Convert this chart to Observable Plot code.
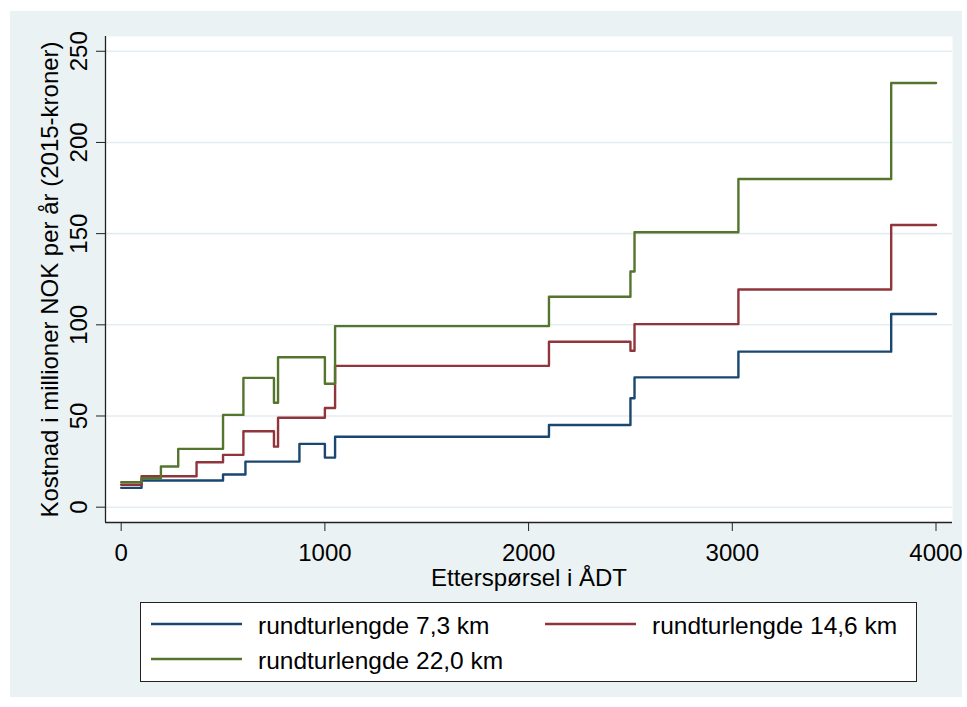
<!DOCTYPE html>
<html>
<head>
<meta charset="utf-8">
<script src="https://cdn.jsdelivr.net/npm/d3@7"></script>
<script src="https://cdn.jsdelivr.net/npm/@observablehq/plot@0.6"></script>
<style>
  html, body { margin: 0; padding: 0; background: #ffffff; }
  #wrap { position: relative; width: 967px; height: 707px; overflow: hidden; font-family: "Liberation Sans", Arial, sans-serif; }
  #bg { position: absolute; left: 10px; top: 11px; width: 952px; height: 686px; background: #eaf2f3; }
  #chart { position: absolute; left: 0; top: 0; }
  #legend { position: absolute; left: 140px; top: 602px; }
</style>
</head>
<body>
<div id="wrap">
  <div id="bg"></div>
  <div id="chart"></div>
  <div id="legend"></div>
</div>
<script>
// ---- data ----
const seriesNames = ["rundturlengde 7,3 km", "rundturlengde 14,6 km", "rundturlengde 22,0 km"];
const seriesColors = ["#1a476f", "#90353b", "#55752f"];

const xBlue = [0, 100, 500, 610, 875, 1000, 1050, 2100, 2500, 2520, 3030, 3780, 4000];
const yBlue = [10.6, 14.6, 17.9, 25.0, 34.7, 27.2, 38.6, 45.1, 59.7, 71.2, 85.3, 105.9, 105.9];

const xRed = [0, 100, 370, 500, 600, 750, 770, 1000, 1050, 2100, 2500, 2520, 3030, 3780, 4000];
const yRed = [12.3, 17.0, 24.6, 28.7, 41.6, 33.2, 49.0, 54.4, 77.5, 90.7, 85.8, 100.4, 119.4, 154.7, 154.7];

const xGreen = [0, 100, 195, 280, 500, 600, 750, 770, 1000, 1050, 2100, 2500, 2520, 3030, 3780, 4000];
const yGreen = [13.7, 15.9, 22.3, 32.0, 50.6, 70.9, 57.3, 82.2, 67.7, 99.3, 115.4, 129.2, 150.8, 180.0, 232.6, 232.6];

const xTicks = [0, 1000, 2000, 3000, 4000];
const yTicks = [0, 50, 100, 150, 200, 250];
const xTitle = "Etterspørsel i ÅDT";
const yTitle = "Kostnad i millioner NOK per år (2015-kroner)";

// ---- build table ----
const allX = [xBlue, xRed, xGreen];
const allY = [yBlue, yRed, yGreen];
const rows = [];
seriesNames.forEach((name, i) => {
  allX[i].forEach((x, j) => rows.push({series: name, x, y: allY[i][j]}));
});

const xDom = [-77, 4081];
const yDom = [-8.4, 258.1];
const font = "'Liberation Sans', Arial, sans-serif";

const chart = Plot.plot({
  width: 967,
  height: 600,
  marginLeft: 105,
  marginRight: 15,
  marginTop: 36,
  marginBottom: 78,
  style: {background: "transparent", fontFamily: font, fontSize: "24px", color: "#000", overflow: "visible"},
  x: {domain: xDom},
  y: {domain: yDom},
  color: {domain: seriesNames, range: seriesColors},
  marks: [
    Plot.frame({fill: "#ffffff", stroke: null}),
    Plot.gridY(yTicks, {stroke: "#e4edf1", strokeOpacity: 1, strokeWidth: 1.6}),
    Plot.axisY(yTicks, {tickSize: 9, tickPadding: 10, tickRotate: -90, fontSize: 24, label: null, stroke: "#222", fill: "#000", tickFormat: d => String(d)}),
    Plot.axisX(xTicks, {tickSize: 9, tickPadding: 12, fontSize: 24, label: null, stroke: "#222", fill: "#000", tickFormat: d => String(d)}),
    Plot.ruleX([xDom[0]], {stroke: "#222", strokeWidth: 1.3}),
    Plot.ruleY([yDom[0]], {stroke: "#222", strokeWidth: 1.3}),
    Plot.line(rows, {x: "x", y: "y", z: "series", stroke: "series", curve: "step-after", strokeWidth: 2.4}),
    Plot.text([yTitle], {frameAnchor: "left", rotate: -90, dx: -55, fontSize: 24, fill: "#000", lineAnchor: "middle", textAnchor: "middle"}),
    Plot.text([xTitle], {frameAnchor: "bottom", dy: 63, fontSize: 24, fill: "#000", lineAnchor: "bottom"})
  ]
});
document.getElementById("chart").appendChild(chart);

// ---- legend ----
const lw = 777, lh = 80;
const leg = d3.select("#legend").append("svg").attr("width", lw).attr("height", lh)
  .style("font-family", font);
leg.append("rect").attr("x", 0.5).attr("y", 0.5).attr("width", lw - 1).attr("height", lh - 1)
  .attr("fill", "#fff").attr("stroke", "#222").attr("stroke-width", 1);
const pos = [[11, 22], [405, 22], [11, 57]];
seriesNames.forEach((name, i) => {
  const [x0, yy] = pos[i];
  leg.append("line").attr("x1", x0).attr("x2", x0 + 91).attr("y1", yy).attr("y2", yy)
    .attr("stroke", seriesColors[i]).attr("stroke-width", 2.4);
  leg.append("text").attr("x", x0 + 107).attr("y", yy + 10).attr("font-size", 24.5)
    .attr("fill", "#000").text(name);
});
</script>
</body>
</html>
